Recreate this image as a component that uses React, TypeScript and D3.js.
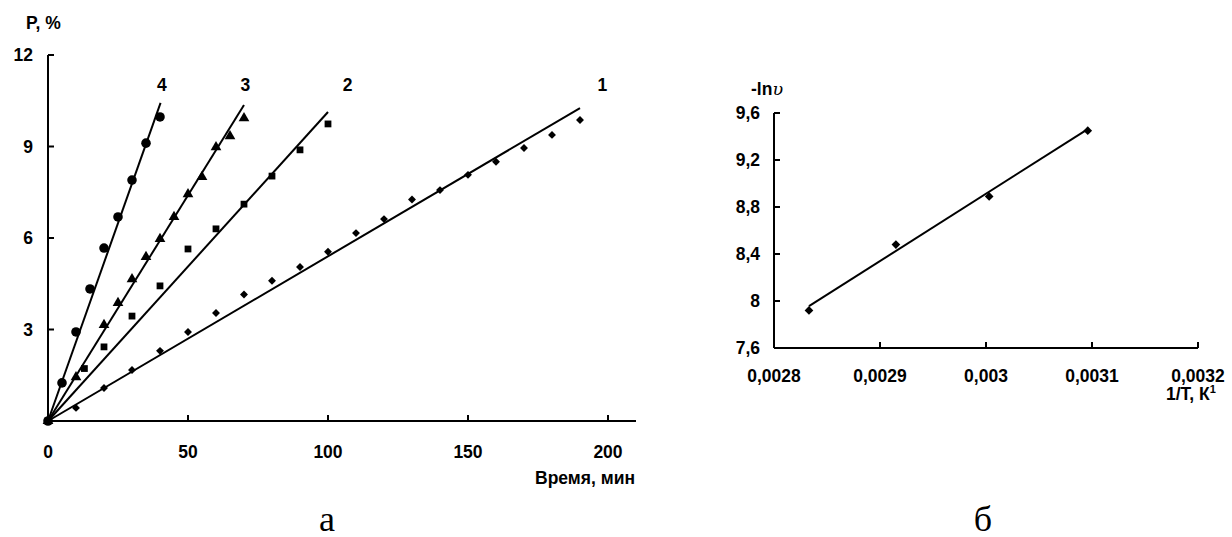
import React from "react";
import * as d3 from "d3";

// ---- Panel a: P, % vs time ----
const s1x = [0, 10, 20, 30, 40, 50, 60, 70, 80, 90, 100, 110, 120, 130, 140, 150, 160, 170, 180, 190];
const s1y = [0, 0.43, 1.08, 1.67, 2.3, 2.92, 3.54, 4.15, 4.6, 5.05, 5.55, 6.16, 6.62, 7.26, 7.57, 8.07, 8.5, 8.95, 9.38, 9.87];
const s2x = [0, 13, 20, 30, 40, 50, 60, 70, 80, 90, 100];
const s2y = [0, 1.72, 2.43, 3.44, 4.43, 5.64, 6.3, 7.11, 8.03, 8.89, 9.74];
const s3x = [0, 10, 20, 25, 30, 35, 40, 45, 50, 55, 60, 65, 70];
const s3y = [0, 1.44, 3.15, 3.87, 4.65, 5.38, 5.97, 6.69, 7.44, 8.0, 8.98, 9.34, 9.93];
const s4x = [0, 5, 10, 15, 20, 25, 30, 35, 40];
const s4y = [0, 1.25, 2.92, 4.33, 5.67, 6.69, 7.9, 9.11, 9.97];
// trend line end points (start at origin)
const lineEndX = [190, 100, 70, 40.2];
const lineEndY = [10.26, 10.13, 10.36, 10.43];
const seriesNames = ["1", "2", "3", "4"];
const seriesLabelX = [198, 107, 70.5, 40.7];
const seriesLabelY = [10.82, 10.82, 10.82, 10.82];
const xTicksA = [0, 50, 100, 150, 200];
const yTicksA = [3, 6, 9, 12];

// ---- Panel б: -ln v vs 1/T ----
const invT = [0.002833, 0.002915, 0.003003, 0.003096];
const lnV = [7.92, 8.48, 8.89, 9.45];
const fitX = [0.002833, 0.003096];
const fitY = [7.956, 9.463];
const xTicksB = [0.0028, 0.0029, 0.003, 0.0031, 0.0032];
const yTicksB = [7.6, 8, 8.4, 8.8, 9.2, 9.6];

const FONT = "'Liberation Sans', Arial, sans-serif";
const FS = 17.5;

export default function App() {
  const xA = d3.scaleLinear().domain([0, 210]).range([48, 636]);
  const yA = d3.scaleLinear().domain([0, 12]).range([421, 55]);
  const xB = d3.scaleLinear().domain([0.0028, 0.0032]).range([774, 1198]);
  const yB = d3.scaleLinear().domain([7.6, 9.6]).range([348, 113]);

  const lineA = d3.line<[number, number]>().x((d) => xA(d[0])).y((d) => yA(d[1]));
  const lineB = d3.line<[number, number]>().x((d) => xB(d[0])).y((d) => yB(d[1]));

  const symDiamond = d3.symbol().type(d3.symbolDiamond2).size(40)()!;
  const symDiamondB = d3.symbol().type(d3.symbolDiamond2).size(48)()!;
  const symSquare = d3.symbol().type(d3.symbolSquare).size(46)()!;
  const symTriangle = d3.symbol().type(d3.symbolTriangle).size(50)()!;
  const symCircle = d3.symbol().type(d3.symbolCircle).size(72)()!;

  const seriesA = [
    { xs: s1x, ys: s1y, sym: symDiamond },
    { xs: s2x, ys: s2y, sym: symSquare },
    { xs: s3x, ys: s3y, sym: symTriangle },
    { xs: s4x, ys: s4y, sym: symCircle },
  ];

  const fmtB = (v: number) => String(+v.toFixed(4)).replace(".", ",");
  const fmtBy = (v: number) => String(+v.toFixed(1)).replace(".", ",");

  return (
    <svg
      width={1232}
      height={537}
      style={{ position: "absolute", left: 0, top: 0, background: "#fff" }}
      fontFamily={FONT}
      fontWeight="bold"
      fontSize={FS}
    >
      <rect x={0} y={0} width={1232} height={537} fill="#fff" />
      {/* ---------- Panel a ---------- */}
      <g>
        <line x1={xA(0)} x2={xA(0)} y1={yA(0)} y2={yA(12)} stroke="#000" strokeWidth={2} />
        <line x1={xA(0)} x2={xA(210)} y1={yA(0)} y2={yA(0)} stroke="#000" strokeWidth={2} />
        {yTicksA.map((t) => (
          <g key={"ya" + t}>
            <line x1={xA(0)} x2={xA(0) + 6} y1={yA(t)} y2={yA(t)} stroke="#000" strokeWidth={2} />
            <text x={xA(0) - 15} y={yA(t)} dy="0.35em" textAnchor="end">
              {t}
            </text>
          </g>
        ))}
        {xTicksA.map((t) => (
          <g key={"xa" + t}>
            <line x1={xA(t)} x2={xA(t)} y1={yA(0)} y2={yA(0) - 6} stroke="#000" strokeWidth={2} />
            <text x={xA(t)} y={yA(0) + 37} textAnchor="middle">
              {t}
            </text>
          </g>
        ))}
        <text x={26} y={29}>P, %</text>
        <text x={635} y={484} textAnchor="end">Время, мин</text>

        {lineEndX.map((ex, i) => (
          <path
            key={"la" + i}
            d={lineA([[0, 0], [ex, lineEndY[i]]])!}
            fill="none"
            stroke="#000"
            strokeWidth={2}
          />
        ))}
        {seriesA.map((s, i) =>
          s.xs.map((xv, j) => (
            <path
              key={"m" + i + "-" + j}
              d={s.sym}
              transform={`translate(${xA(xv)},${yA(s.ys[j])})`}
              fill="#000"
            />
          ))
        )}
        {seriesNames.map((n, i) => (
          <text key={"sn" + n} x={xA(seriesLabelX[i])} y={yA(seriesLabelY[i])} textAnchor="middle">
            {n}
          </text>
        ))}
        <text
          x={327}
          y={531}
          textAnchor="middle"
          fontFamily="'Liberation Serif', 'Times New Roman', serif"
          fontWeight="normal"
          fontSize={36}
        >
          а
        </text>
      </g>

      {/* ---------- Panel б ---------- */}
      <g>
        <line x1={xB(0.0028)} x2={xB(0.0028)} y1={yB(7.6)} y2={yB(9.6)} stroke="#000" strokeWidth={2} />
        <line x1={xB(0.0028)} x2={xB(0.0032)} y1={yB(7.6)} y2={yB(7.6)} stroke="#000" strokeWidth={2} />
        {yTicksB.map((t) => (
          <g key={"yb" + t}>
            <line x1={xB(0.0028)} x2={xB(0.0028) + 6} y1={yB(t)} y2={yB(t)} stroke="#000" strokeWidth={2} />
            <text x={xB(0.0028) - 14} y={yB(t)} dy="0.35em" textAnchor="end">
              {fmtBy(t)}
            </text>
          </g>
        ))}
        {xTicksB.map((t) => (
          <g key={"xb" + t}>
            <line x1={xB(t)} x2={xB(t)} y1={yB(7.6)} y2={yB(7.6) - 6} stroke="#000" strokeWidth={2} />
            <text x={xB(t)} y={yB(7.6) + 34} textAnchor="middle">
              {fmtB(t)}
            </text>
          </g>
        ))}
        <text x={751} y={95}>
          -ln<tspan fontStyle="italic" fontFamily="'DejaVu Serif', serif" fontWeight="normal">υ</tspan>
        </text>
        <text x={1166} y={400}>
          1/T, К<tspan dy={-7} fontSize={11}>1</tspan>
        </text>
        <path d={lineB([[fitX[0], fitY[0]], [fitX[1], fitY[1]]])!} fill="none" stroke="#000" strokeWidth={2} />
        {invT.map((xv, j) => (
          <path
            key={"mb" + j}
            d={symDiamondB}
            transform={`translate(${xB(xv)},${yB(lnV[j])})`}
            fill="#000"
          />
        ))}
        <text
          x={983}
          y={531}
          textAnchor="middle"
          fontFamily="'Liberation Serif', 'Times New Roman', serif"
          fontWeight="normal"
          fontSize={36}
        >
          б
        </text>
      </g>
    </svg>
  );
}
